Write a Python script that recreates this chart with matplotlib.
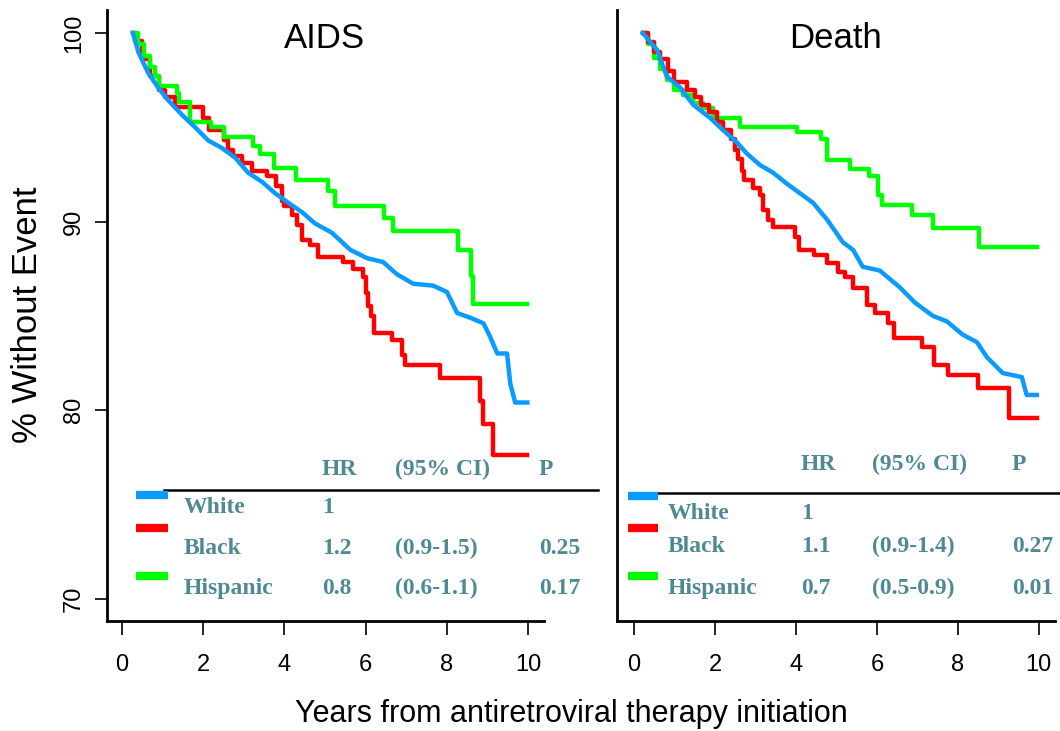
import matplotlib
matplotlib.use("Agg")
import matplotlib.pyplot as plt
from matplotlib.lines import Line2D

plt.rcParams['font.family'] = ['Liberation Sans', 'DejaVu Sans']

# -------------------------------
# Kaplan-Meier curves (years, % without event)
aids_white_t = [0.27, 0.40, 0.64, 0.89, 1.13, 1.48, 1.80, 2.12, 2.46, 2.78, 3.10, 3.45, 3.77,
                4.09, 4.43, 4.75, 5.17, 5.62, 6.03, 6.43, 6.77, 7.17, 7.66, 8.00, 8.25, 8.57,
                8.90, 9.06, 9.24, 9.48, 9.56, 9.68, 9.98]
aids_white_s = [100, 99.0, 97.9, 97.1, 96.45, 95.65, 95.0, 94.3, 93.9, 93.4, 92.6, 92.1, 91.5,
                91.0, 90.5, 89.9, 89.4, 88.5, 88.06, 87.85, 87.2, 86.7, 86.6, 86.26, 85.15, 84.9,
                84.6, 83.9, 83.0, 83.0, 81.4, 80.4, 80.4]

aids_black_t = [0.27, 0.32, 0.50, 0.70, 0.90, 1.06, 1.30, 2.00, 2.15, 2.50, 2.62, 2.73, 2.95,
                3.20, 3.57, 3.80, 3.94, 4.00, 4.19, 4.30, 4.42, 4.63, 4.83, 5.44, 5.69, 5.94,
                6.00, 6.05, 6.12, 6.20, 6.65, 6.90, 6.97, 7.83, 8.82, 8.90, 9.14, 9.98]
aids_black_s = [100, 99.6, 98.6, 97.7, 97.0, 96.6, 96.1, 95.5, 94.85, 94.3, 93.8, 93.5, 93.1,
                92.7, 92.4, 91.9, 91.1, 90.8, 90.35, 89.8, 89.0, 88.75, 88.1, 87.85, 87.5, 87.05,
                86.2, 85.5, 85.0, 84.1, 83.7, 82.9, 82.4, 81.7, 80.5, 79.25, 77.6, 77.6]

aids_hisp_t = [0.27, 0.40, 0.55, 0.70, 0.80, 0.92, 1.36, 1.40, 1.68, 2.20, 2.52, 3.22, 3.40,
               3.74, 4.28, 5.08, 5.25, 6.45, 6.67, 8.28, 8.60, 8.65, 9.97]
aids_hisp_s = [100, 99.4, 98.8, 98.2, 97.7, 97.2, 96.8, 96.35, 95.3, 95.0, 94.5, 94.0, 93.6,
               92.85, 92.2, 91.6, 90.8, 90.2, 89.5, 88.5, 87.1, 85.6, 85.6]

death_white_t = [0.22, 0.57, 0.81, 1.14, 1.46, 1.88, 2.20, 2.54, 2.79, 3.11, 3.43, 3.78, 4.10,
                 4.42, 4.77, 5.16, 5.41, 5.65, 6.07, 6.57, 6.94, 7.38, 7.73, 8.12, 8.47, 8.72,
                 9.11, 9.58, 9.70, 9.95]
death_white_s = [100, 99.1, 97.7, 97.1, 96.2, 95.5, 94.85, 94.2, 93.6, 93.0, 92.6, 92.0, 91.5,
                 91.0, 90.1, 88.9, 88.5, 87.6, 87.4, 86.5, 85.7, 85.0, 84.7, 84.0, 83.6, 82.8,
                 81.96, 81.75, 80.8, 80.8]

death_black_t = [0.22, 0.35, 0.50, 0.65, 0.85, 1.00, 1.30, 1.50, 1.65, 1.85, 2.05, 2.20, 2.40,
                 2.49, 2.58, 2.68, 2.72, 2.94, 3.11, 3.18, 3.30, 3.43, 3.98, 4.07, 4.45, 4.77,
                 5.04, 5.22, 5.41, 5.75, 5.95, 6.27, 6.42, 7.11, 7.40, 7.75, 8.49, 9.26, 9.95]
death_black_s = [100, 99.5, 99.0, 98.6, 98.0, 97.4, 97.0, 96.6, 96.2, 95.8, 95.3, 94.85, 94.4,
                 93.8, 93.3, 92.7, 92.2, 91.8, 91.4, 90.6, 90.1, 89.7, 89.2, 88.5, 88.2, 87.8,
                 87.3, 87.05, 86.5, 85.55, 85.15, 84.6, 83.8, 83.35, 82.4, 81.85, 81.15, 79.6, 79.6]

death_hisp_t = [0.22, 0.35, 0.50, 0.65, 0.81, 1.00, 1.20, 1.46, 1.70, 1.95, 2.62, 4.02, 4.62,
                4.77, 5.33, 5.80, 6.02, 6.12, 6.86, 7.38, 8.52, 9.95]
death_hisp_s = [100, 99.4, 98.7, 98.1, 97.5, 97.0, 96.7, 96.3, 96.0, 95.5, 95.0, 94.75, 94.4,
                93.25, 92.8, 92.4, 91.4, 90.9, 90.35, 89.65, 88.65, 88.65]

# -------------------------------
# Hazard ratio tables
groups = ['White', 'Black', 'Hispanic']
aids_hr = ['1', '1.2', '0.8']
aids_ci = ['', '(0.9-1.5)', '(0.6-1.1)']
aids_p = ['', '0.25', '0.17']
death_hr = ['1', '1.1', '0.7']
death_ci = ['', '(0.9-1.4)', '(0.5-0.9)']
death_p = ['', '0.27', '0.01']

x_ticks = [0, 2, 4, 6, 8, 10]
y_ticks = [70, 80, 90, 100]

BLUE, RED, GREEN = '#0A9BFF', '#FF0000', '#00FF00'
TXT = '#4F8A94'
W, H = 1060, 731


def fx(px):
    return px / W


def fy(py):
    return 1 - py / H


fig = plt.figure(figsize=(W / 100, H / 100), dpi=100)
ax1 = fig.add_axes([fx(107), fy(621), fx(544) - fx(107), fy(10) - fy(621)])
ax2 = fig.add_axes([fx(617), fy(621), fx(1055) - fx(617), fy(10) - fy(621)])

for ax in (ax1, ax2):
    for s in ('top', 'right'):
        ax.spines[s].set_visible(False)
    for s in ('left', 'bottom'):
        ax.spines[s].set_linewidth(2.0)
    ax.set_ylim(68.81, 101.22)
    ax.set_xticks(x_ticks)
    ax.tick_params(axis='x', direction='out', length=10, width=1.2, pad=14, labelsize=17)

ax1.set_xlim(-0.37, 10.39)
ax2.set_xlim(-0.42, 10.4)
ax1.set_yticks(y_ticks)
ax1.tick_params(axis='y', direction='out', length=9, width=1.2, pad=7, labelsize=17,
                labelrotation=90)
for lab in ax1.get_yticklabels():
    lab.set_va('center')
ax2.set_yticks([])

lw = 3.2
ax1.step(aids_black_t, aids_black_s, where='post', color=RED, lw=lw)
ax1.step(aids_hisp_t, aids_hisp_s, where='post', color=GREEN, lw=lw)
ax1.plot(aids_white_t, aids_white_s, color=BLUE, lw=lw)

ax2.step(death_hisp_t, death_hisp_s, where='post', color=GREEN, lw=lw)
ax2.step(death_black_t, death_black_s, where='post', color=RED, lw=lw)
ax2.plot(death_white_t, death_white_s, color=BLUE, lw=lw)

# titles and axis labels
fig.text(fx(325), fy(48), 'AIDS', ha='center', va='baseline', fontsize=25)
fig.text(fx(836), fy(48), 'Death', ha='center', va='baseline', fontsize=25)
fig.text(fx(571), fy(722), 'Years from antiretroviral therapy initiation',
         ha='center', va='baseline', fontsize=22)
fig.text(fx(28), fy(315), '% Without Event', rotation=90, ha='center', va='center',
         fontsize=25)


# hazard ratio tables
def table(x_lab, x_hr, x_ci, x_p, y_head, y_rows, y_rule, rule_x, bar_x, bar_y, hr, ci, p):
    tf = dict(family=['Liberation Serif', 'DejaVu Serif'], fontweight='bold',
              fontsize=17, color=TXT, va='baseline')
    fig.text(fx(x_hr), fy(y_head), 'HR', **tf)
    fig.text(fx(x_ci), fy(y_head), '(95% CI)', **tf)
    fig.text(fx(x_p), fy(y_head), 'P', **tf)
    for i, g in enumerate(groups):
        fig.text(fx(x_lab), fy(y_rows[i]), g, **tf)
        fig.text(fx(x_hr), fy(y_rows[i]), hr[i], **tf)
        fig.text(fx(x_ci), fy(y_rows[i]), ci[i], **tf)
        fig.text(fx(x_p), fy(y_rows[i]), p[i], **tf)
    fig.add_artist(Line2D([fx(rule_x[0]), fx(rule_x[1])], [fy(y_rule)] * 2,
                          transform=fig.transFigure, color='black', lw=1.8))
    for c, yb in zip((BLUE, RED, GREEN), bar_y):
        fig.add_artist(Line2D([fx(bar_x[0]), fx(bar_x[1])], [fy(yb)] * 2,
                              transform=fig.transFigure, color=c, lw=6,
                              solid_capstyle='butt'))


table(184, 322, 395, 539, 475, [513, 554, 594], 490, (164, 598), (136, 168),
      (495, 528, 576), aids_hr, aids_ci, aids_p)
table(668, 801, 872, 1012, 470, [519, 552, 594], 493, (657, 1060), (628, 658),
      (496, 528, 576), death_hr, death_ci, death_p)

plt.savefig('out.png', dpi=100)
